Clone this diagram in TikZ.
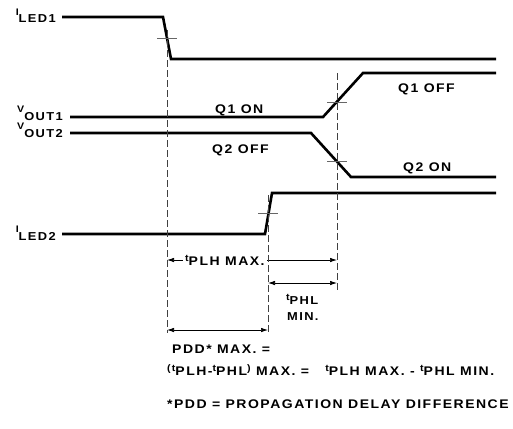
\documentclass[tikz,border=0pt]{standalone}
\usepackage{fontspec}
\setmainfont{Liberation Sans}
\newfontfamily\hpfont{Liberation Sans}[LetterSpace=12,FakeStretch=1.12]
\usetikzlibrary{arrows.meta}
\tikzset{
    wave/.style={
        line width=2.6pt,
        line join=miter
    },
    marker/.style={
        draw=black!75,
        dash pattern=on 7pt off 3pt,
        line width=0.7pt
    },
    crosstick/.style={
        draw=black!60,
        line width=0.6pt
    },
    dimline/.style={
        line width=0.7pt,
        {Latex[length=7pt, width=4.5pt]}-{Latex[length=7pt, width=4.5pt]}
    },
    lbl/.style={
        font=\hpfont\bfseries\fontsize{12.5}{14}\selectfont,
        inner sep=0pt,
        anchor=base west
    },
    smalllbl/.style={
        font=\hpfont\bfseries\fontsize{11.5}{13}\selectfont,
        inner sep=0pt,
        anchor=base west
    },
    sig/.style={
        font=\hpfont\bfseries\fontsize{11.5}{12}\selectfont,
        inner sep=0pt,
        anchor=base east
    }
}
\newcommand{\signame}[2]{\raisebox{7.5pt}{\fontsize{9.5}{10}\selectfont #1}#2}
\newcommand{\tup}[1]{\raisebox{4pt}{\fontsize{9.5}{10}\selectfont #1}}
\newcommand{\tdelay}[1]{\tup{t}#1}

\begin{document}
\begin{tikzpicture}[x=1pt, y=-1pt]
  \useasboundingbox (0,0) rectangle (513,428);

  % Signal names
  \node[sig] (iled1) at (56,23) {\signame{I}{LED1}};
  \node[sig] (vout1) at (63,120) {\signame{V}{OUT1}};
  \node[sig] (vout2) at (63,137) {\signame{V}{OUT2}};
  \node[sig] (iled2) at (56,240) {\signame{I}{LED2}};

  % Waveforms
  \draw[wave] (62,17) -- (163,17) -- (171,59) -- (496,59);
  \draw[wave] (70,117) -- (323,117) -- (363,73) -- (496,73);
  \draw[wave] (70,133) -- (311,133) -- (351,177) -- (496,177);
  \draw[wave] (62,234) -- (265,234) -- (272,193) -- (496,193);

  % State labels
  \node[lbl] (q1on) at (215,113) {Q1 ON};
  \node[lbl] (q2off) at (212,153) {Q2 OFF};
  \node[lbl] (q1off) at (398,92) {Q1 OFF};
  \node[lbl] (q2on) at (403,171) {Q2 ON};

  % Switching points
  \coordinate (ledA) at (167,30);
  \coordinate (ledAbot) at (167,333);
  \coordinate (ledB) at (268,195);
  \coordinate (ledBbot) at (268,333);
  \coordinate (outC) at (337,73);
  \coordinate (outCbot) at (337,293);

  % Crossing ticks
  \draw[crosstick] (157,38) -- (177,38);
  \draw[crosstick] (327,102) -- (347,102);
  \draw[crosstick] (327,161) -- (347,161);
  \draw[crosstick] (258,213) -- (278,213);

  % Delay arrows
  \draw[dimline] (ledAbot |- 0,260) -- (outC |- 0,260);
  \node[lbl, fill=white, inner xsep=2pt] (tplh) at (183,265) {\tdelay{PLH} MAX.};
  \draw[dimline] (ledB |- 0,283) -- (outC |- 0,283);
  \node[smalllbl] (tphl) at (286,304) {\tdelay{PHL}};
  \node[smalllbl] (tmin) at (287,320) {MIN.};
  \draw[dimline] (ledA |- 0,330) -- (ledB |- 0,330);

  % Dashed markers
  \draw[marker] (ledA) -- (ledAbot);
  \draw[marker] (ledB) -- (ledBbot);
  \draw[marker] (outC) -- (outCbot);

  % Formula and footnote
  \node[lbl] (pdd) at (172,353) {PDD* MAX. =};
  \node[lbl] (pddeq) at (167,375) {\tup{(t}PLH-\tdelay{PHL}\tup{)} MAX. = \ \ \tdelay{PLH} MAX. - \tdelay{PHL} MIN.};
  \node[lbl] (note) at (167,408) {*PDD = PROPAGATION DELAY DIFFERENCE};
\end{tikzpicture}
\end{document}
